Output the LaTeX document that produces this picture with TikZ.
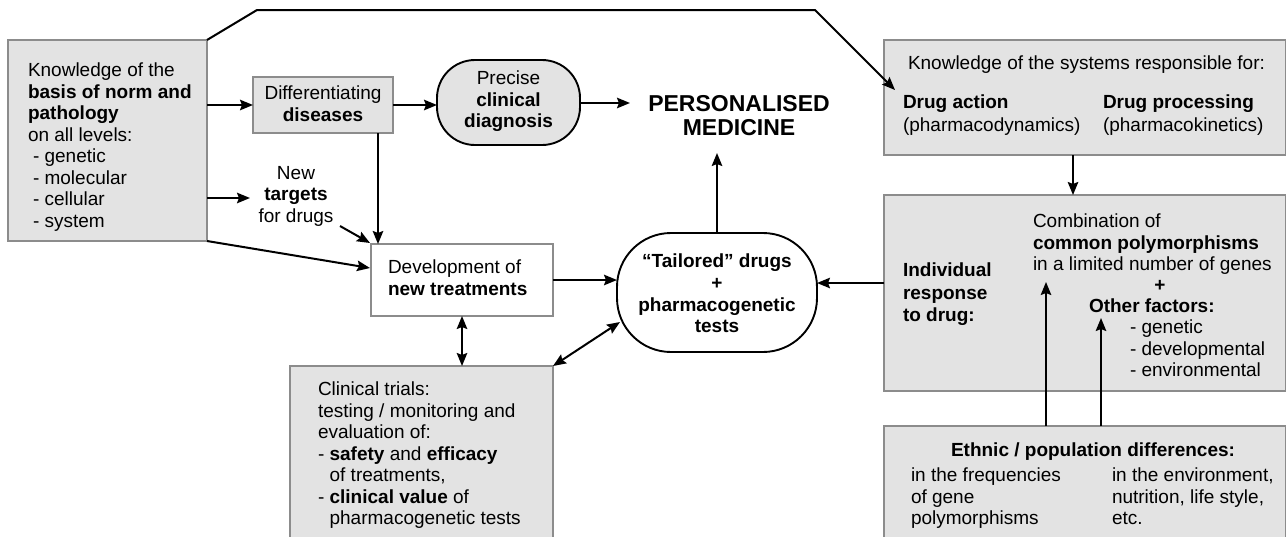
\documentclass[tikz,border=0pt]{standalone}
\usepackage{fontspec}
\setmainfont{Liberation Sans}
\usetikzlibrary{arrows.meta,calc}
\begin{document}
\begin{tikzpicture}[x=1pt,y=-1pt,
  every node/.style={inner sep=0pt, outer sep=0pt},
  txt/.style={font=\fontsize{19}{21.5}\selectfont, align=left, anchor=north west},
  ctxt/.style={font=\fontsize{19}{21.5}\selectfont, align=center, anchor=north},
  graybox/.style={draw=black!45, line width=1.3pt, fill=black!11, anchor=north west},
  whitebox/.style={draw=black!45, line width=1.3pt, fill=white, anchor=north west},
  roundbox/.style={draw=black, line width=1.9pt, anchor=center},
  tip/.style={-{Stealth[length=13pt,width=10.5pt,inset=2pt]}},
  arr/.style={line width=2pt, tip},
  darr/.style={line width=2pt, {Stealth[length=13pt,width=10.5pt,inset=2pt]}-{Stealth[length=13pt,width=10.5pt,inset=2pt]}},
]
\useasboundingbox (0,0) rectangle (1286,536);
\clip (0,0) rectangle (1286,536);

% ---- boxes ----
\node[graybox, minimum width=199pt, minimum height=201pt] (L) at (8,40) {};
\node[graybox, minimum width=140pt, minimum height=56pt] (D) at (253,77) {};
\node[roundbox, fill=black!11, minimum width=143pt, minimum height=85pt, rounded corners=38pt] (P) at (508.5,102.5) {};
\node[whitebox, minimum width=182pt, minimum height=72pt] (Dev) at (371,244) {};
\node[roundbox, fill=white, minimum width=200pt, minimum height=119pt, rounded corners=54pt] (T) at (717,292.5) {};
\node[graybox, minimum width=263pt, minimum height=190pt] (C) at (290,366) {};
\node[graybox, minimum width=402pt, minimum height=115pt] (RT) at (884,40) {};
\node[graybox, minimum width=402pt, minimum height=196pt] (RM) at (884,195) {};
\node[graybox, minimum width=402pt, minimum height=130pt] (RB) at (884,426) {};

% ---- texts ----
\node[txt] (Ltxt) at (28,63) {Knowledge of the\\\textbf{basis of norm and}\\\textbf{pathology}\\on all levels:\\\hspace{5pt}- genetic\\\hspace{5pt}- molecular\\\hspace{5pt}- cellular\\\hspace{5pt}- system};
\node[ctxt] (Dtxt) at (323,86) {Differentiating\\\textbf{diseases}};
\node[ctxt] (Ptxt) at (508.5,71) {Precise\\\textbf{clinical}\\\textbf{diagnosis}};
\node[align=center, anchor=north, font=\fontsize{23}{24}\selectfont\bfseries] (PM) at (739,95) {PERSONALISED\\MEDICINE};
\node[ctxt] (NT) at (296,166) {New\\\textbf{targets}\\for drugs};
\node[txt] (Devtxt) at (388,260) {Development of\\\textbf{new treatments}};
\node[ctxt, font=\fontsize{19}{21.7}\selectfont\bfseries] (Ttxt) at (717,254) {``Tailored'' drugs\\+\\pharmacogenetic\\tests};
\node[txt] (Ctxt) at (318,382) {Clinical trials:\\testing / monitoring and\\evaluation of:\\- \textbf{safety} and \textbf{efficacy}\\\phantom{- }of treatments,\\- \textbf{clinical value} of\\\phantom{- }pharmacogenetic tests};
\node[txt] (RTa) at (908,56) {Knowledge of the systems responsible for:};
\node[txt, font=\fontsize{19}{23}\selectfont] (RTb) at (903,95) {\textbf{Drug action}\\(pharmacodynamics)};
\node[txt, font=\fontsize{19}{23}\selectfont] (RTc) at (1103,95) {\textbf{Drug processing}\\(pharmacokinetics)};
\node[txt, font=\fontsize{19}{22.5}\selectfont\bfseries] (RMa) at (903,263) {Individual\\response\\to drug:};
\node[txt] (RMb) at (1033,214) {Combination of\\\textbf{common polymorphisms}\\in a limited number of genes};
\node[font=\fontsize{19}{21.5}\selectfont\bfseries] (plus) at (1160,286) {+};
\node[txt, font=\fontsize{19}{21.5}\selectfont\bfseries] (RMc) at (1089,299) {Other factors:};
\node[txt] (RMd) at (1130,320) {- genetic\\- developmental\\- environmental};
\node[txt, font=\fontsize{19}{21.5}\selectfont\bfseries] (RBa) at (951,443) {Ethnic / population differences:};
\node[txt] (RBb) at (911,468) {in the frequencies\\of gene\\polymorphisms};
\node[txt] (RBc) at (1112,468) {in the environment,\\nutrition, life style,\\etc.};

% ---- free ends ----
\coordinate (c1) at (370,268);
\coordinate (c2) at (620,322);
\coordinate (c3) at (717,153);
\coordinate (c4) at (630,103);
\coordinate (c5) at (895,90);
\coordinate (c6) at (1046,282);
\coordinate (c7) at (1101,318);
\coordinate (c8) at (250,198);
\coordinate (c9) at (340,226);
\coordinate (c10) at (370,243);
\coordinate (k1) at (257,10);
\coordinate (k2) at (815,10);

% ---- connectors ----
\draw[arr] (L.east |- D.west) -- (D.west);
\draw[arr] (L.east |- c8) -- (c8);
\draw[arr] (c9) -- (c10);
\draw[arr] (D.south -| 378,0) -- (Dev.north -| 378,0);
\draw[arr] (L.south east) -- (c1);
\draw[arr] (D.east) -- (P.west |- D.east);
\draw[arr] (P.east |- c4) -- (c4);
\draw[line width=2pt, tip] (L.north east) -- (k1) -- (k2) -- (c5);
\draw[arr] (Dev.east) -- (Dev.east -| T.west);
\draw[darr] (Dev.south -| 462,0) -- (C.north -| 462,0);
\draw[darr] (C.north east) -- (c2);
\draw[arr] (T.north) -- (c3);
\draw[arr] (RT.south -| 1073,0) -- (RM.north -| 1073,0);
\draw[arr] (RM.west |- 0,283) -- (T.east |- 0,283);
\draw[arr] (RB.north -| c6) -- (c6);
\draw[arr] (RB.north -| c7) -- (c7);
\end{tikzpicture}
\end{document}
